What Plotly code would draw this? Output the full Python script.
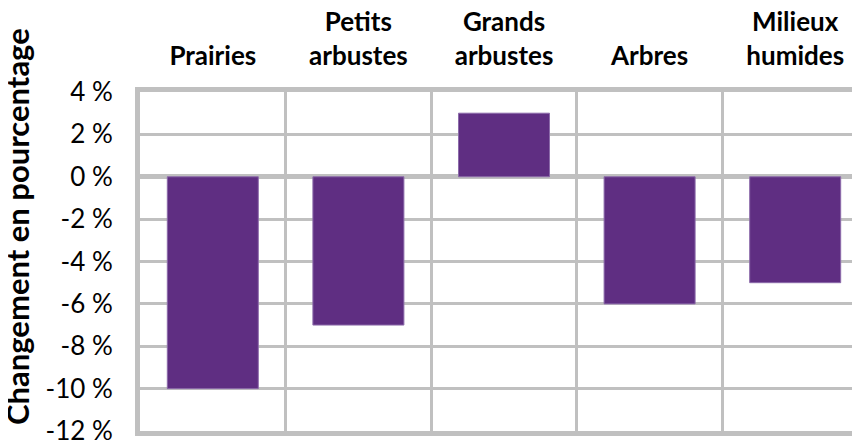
import plotly.graph_objects as go

categories = ['Prairies', 'Petits<br>arbustes', 'Grands<br>arbustes', 'Arbres', 'Milieux<br>humides']
changes = [-10, -7, 3, -6, -5]
y_ticks = [4, 2, 0, -2, -4, -6, -8, -10, -12]
y_labels = [f'{v} %' for v in y_ticks]

grid = '#C0C0C0'

fig = go.Figure(go.Bar(
    x=categories,
    y=changes,
    marker=dict(color='#5F2E82', line=dict(color='#8C6BAA', width=1)),
    width=0.625,
))

# the page adds an 8px body margin, so margins are shifted by that much
fig.update_layout(
    width=860, height=444,
    margin=dict(l=132, r=0, t=84, b=21),
    plot_bgcolor='white', paper_bgcolor='white',
    font=dict(family='Lato, Open Sans, sans-serif', size=26, color='black'),
    showlegend=False,
)

fig.update_xaxes(
    side='top', type='category', tickson='boundaries',
    range=[-0.5, 4.5], automargin=False,
    showgrid=True, gridcolor=grid, gridwidth=3,
    showline=True, linecolor=grid, linewidth=5, mirror=True,
    ticks='', ticklabelstandoff=12,
    tickfont=dict(size=26, weight='bold'),
)

fig.update_yaxes(
    range=[-12, 4], automargin=False,
    tickvals=y_ticks, ticktext=y_labels,
    showgrid=True, gridcolor=grid, gridwidth=3,
    zeroline=True, zerolinecolor=grid, zerolinewidth=5,
    showline=True, linecolor=grid, linewidth=5, mirror=True,
    ticks='', ticklabelstandoff=17,
    tickfont=dict(size=26),
)

fig.add_annotation(
    text='<b>Changement en pourcentage</b>',
    xref='paper', yref='paper', x=0, y=0.602,
    xanchor='center', yanchor='middle', xshift=-123,
    textangle=-90, showarrow=False,
    font=dict(size=31, family='Lato, sans-serif'),
)

fig.write_html('out.html')
